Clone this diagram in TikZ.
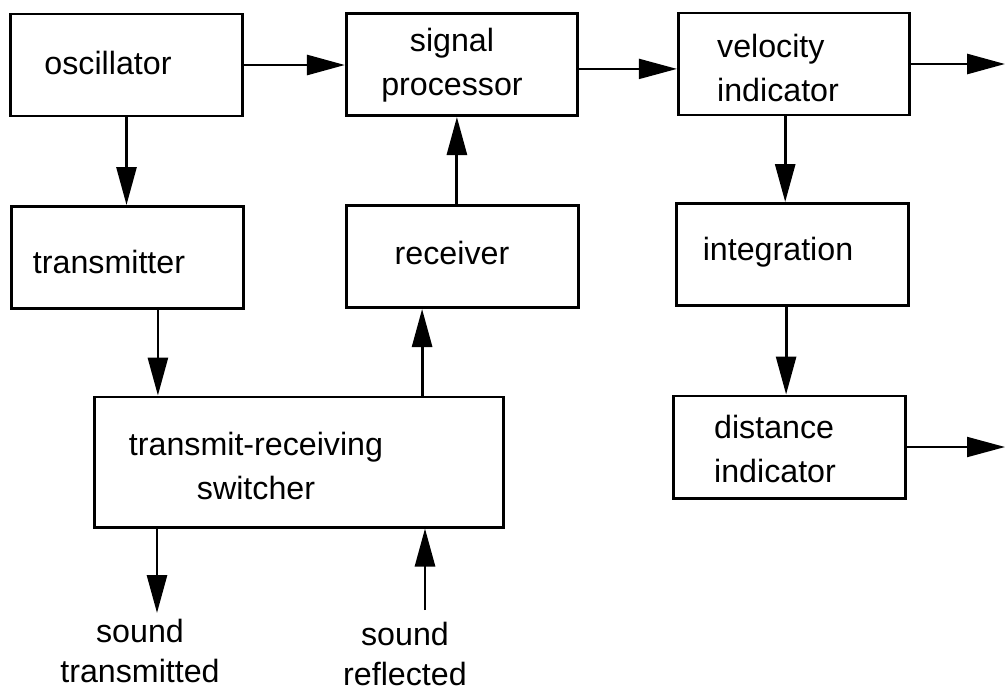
\documentclass[tikz,border=0pt]{standalone}
\usepackage{fontspec}
\setmainfont{Liberation Sans}
\usepackage{tikz}
\usetikzlibrary{arrows.meta,positioning,calc}

\begin{document}
\begin{tikzpicture}[
  x=0.025cm, y=-0.025cm,
  blk/.style={draw, line width=2.1pt, rectangle, minimum width=5.78cm, minimum height=2.55cm, inner sep=0pt},
  txt/.style={font=\fontsize{22.9}{31}\selectfont, inner sep=0pt},
  arr/.style={line width=2pt, -{Triangle[length=0.95cm, width=0.5cm]}},
  thinarr/.style={line width=1.4pt, -{Triangle[length=0.95cm, width=0.5cm]}}
]
\useasboundingbox (0,0) rectangle (1006,693);

\node[blk] (osc) at (126.5,65) {};
\node[txt] (osct) at (108,63) {oscillator};
\node[blk] (sp) at (462,64.5) {};
\node[txt, align=center] (spt) at (452,65) {signal\\processor};
\node[blk] (vel) at (794,64) {};
\node[txt, align=left] (velt) at (778,68) {velocity\\indicator};

\node[blk] (tr) at (127.5,257.5) {};
\node[txt] (trt) at (109,262) {transmitter};
\node[blk] (rec) at (462.5,256.5) {};
\node[txt] (rect) at (452,253) {receiver};
\node[blk] (int) at (792.5,254.5) {};
\node[txt] (intt) at (778,252) {integration};

\node[blk, minimum width=10.2cm, minimum height=3.25cm] (sw) at (299,462) {};
\node[txt, align=center] (swt) at (256,466) {transmit-receiving\\switcher};
\node[blk] (dist) at (789.5,447) {};
\node[txt, align=left] (distt) at (775,449) {distance\\indicator};

\node[txt, align=center, font=\fontsize{22.9}{29}\selectfont] (sndt) at (140,651) {sound\\transmitted};
\node[txt, align=center, font=\fontsize{22.9}{29}\selectfont] (sndr) at (405,654) {sound\\reflected};

\coordinate (velout) at (1005,64);
\coordinate (distout) at (1005,447);
\coordinate (txout) at (157,613);
\coordinate (rxin) at (425,610);

\draw[arr] (osc.east) -- (osc.east -| sp.west);
\draw[thinarr] ([yshift=-0.11cm]sp.east) -- ([yshift=-0.11cm]sp.east -| vel.west);
\draw[arr] (vel.east) -- (velout);
\draw[arr] (osc.south) -- (osc.south |- tr.north);
\draw[arr] ([xshift=-0.14cm]rec.north) -- ([xshift=-0.14cm]rec.north |- sp.south);
\draw[arr] ([xshift=-0.22cm]vel.south) -- ([xshift=-0.22cm]vel.south |- int.north);
\draw[arr] ([xshift=-0.16cm]int.south) -- ([xshift=-0.16cm]int.south |- dist.north);
\draw[thinarr] (dist.east) -- (distout);
\draw[arr] ([xshift=0.76cm]tr.south) -- ([xshift=0.76cm]tr.south |- sw.north);
\draw[arr] ([xshift=-1.01cm]rec.south |- sw.north) -- ([xshift=-1.01cm]rec.south);
\draw[arr] (txout |- sw.south) -- (txout);
\draw[arr] (rxin) -- (rxin |- sw.south);
\end{tikzpicture}
\end{document}
